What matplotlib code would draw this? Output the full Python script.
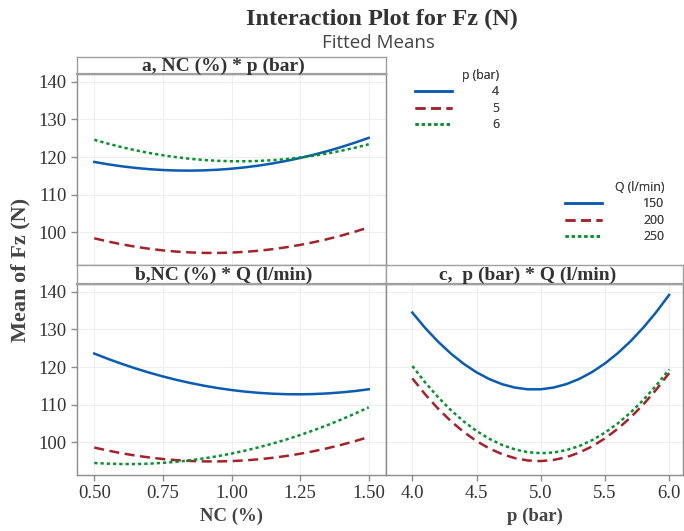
import matplotlib
matplotlib.use("Agg")
import matplotlib.pyplot as plt
from matplotlib.lines import Line2D

# --- dados (médias ajustadas) ---
NC = [0.50, 0.55, 0.60, 0.65, 0.70, 0.75, 0.80, 0.85, 0.90, 0.95, 1.00,
      1.05, 1.10, 1.15, 1.20, 1.25, 1.30, 1.35, 1.40, 1.45, 1.50]
P = [4.0, 4.1, 4.2, 4.3, 4.4, 4.5, 4.6, 4.7, 4.8, 4.9, 5.0,
     5.1, 5.2, 5.3, 5.4, 5.5, 5.6, 5.7, 5.8, 5.9, 6.0]

# a) NC * p
a_p4 = [118.71, 118.08, 117.55, 117.12, 116.79, 116.56, 116.43, 116.40, 116.47, 116.64, 116.91,
        117.28, 117.75, 118.32, 118.99, 119.76, 120.63, 121.60, 122.67, 123.84, 125.11]
a_p5 = [98.40, 97.55, 96.80, 96.16, 95.62, 95.19, 94.86, 94.64, 94.52, 94.51, 94.60,
        94.80, 95.10, 95.51, 96.02, 96.64, 97.36, 98.19, 99.12, 100.16, 101.30]
a_p6 = [124.60, 123.57, 122.64, 121.82, 121.10, 120.48, 119.96, 119.54, 119.22, 119.01, 118.90,
        118.89, 118.98, 119.18, 119.48, 119.88, 120.38, 120.98, 121.68, 122.49, 123.40]

# b) NC * Q
b_q150 = [123.60, 122.18, 120.87, 119.65, 118.53, 117.51, 116.59, 115.77, 115.05, 114.42, 113.90,
          113.47, 113.15, 112.92, 112.79, 112.76, 112.83, 113.00, 113.27, 113.63, 114.10]
b_q200 = [98.60, 97.79, 97.08, 96.47, 95.96, 95.55, 95.24, 95.03, 94.92, 94.91, 95.00,
          95.19, 95.48, 95.87, 96.36, 96.95, 97.64, 98.43, 99.32, 100.31, 101.40]
b_q250 = [94.50, 94.31, 94.22, 94.22, 94.32, 94.53, 94.82, 95.22, 95.72, 96.31, 97.00,
          97.79, 98.68, 99.66, 100.74, 101.93, 103.20, 104.58, 106.06, 107.63, 109.30]

# c) p * Q
c_q150 = [134.50, 130.41, 126.78, 123.60, 120.88, 118.61, 116.80, 115.44, 114.54, 114.09, 114.10,
          114.56, 115.48, 116.85, 118.68, 120.96, 123.70, 126.89, 130.54, 134.64, 139.20]
c_q200 = [117.00, 112.76, 108.97, 105.63, 102.75, 100.33, 98.35, 96.83, 95.77, 95.16, 95.00,
          95.30, 96.05, 97.25, 98.91, 101.03, 103.59, 106.61, 110.09, 114.02, 118.40]
c_q250 = [120.30, 115.93, 112.02, 108.56, 105.56, 103.01, 100.92, 99.28, 98.10, 97.37, 97.10,
          97.28, 97.92, 99.01, 100.56, 102.56, 105.02, 107.93, 111.30, 115.12, 119.40]

p_levels = ["4", "5", "6"]
q_levels = ["150", "200", "250"]
yticks = [100, 110, 120, 130, 140]
nc_ticks = [0.5, 0.75, 1.0, 1.25, 1.5]
p_ticks = [4.0, 4.5, 5.0, 5.5, 6.0]

CORES = ["#0B5BB0", "#A3232A", "#0A9030"]
ESTILOS = ["-", (0, (4.0, 2.2)), (0, (1.3, 1.2))]
LW = 1.8
SERIF = "Liberation Serif"
SANS = "Open Sans"
W, H = 684, 531
YLIM = (91.3, 142.1)


def caixa(l, t, r, b):
    return [l / W, 1 - b / H, (r - l) / W, (b - t) / H]


fig = plt.figure(figsize=(W / 100, H / 100), dpi=100)


def painel(box, x, series, xlim, xt, xfmt, ylab, xlab):
    ax = fig.add_axes(caixa(*box))
    for ys, c, ls in zip(series, CORES, ESTILOS):
        ax.plot(x, ys, color=c, ls=ls, lw=LW)
    ax.set_xlim(*xlim)
    ax.set_ylim(*YLIM)
    ax.set_xticks(xt)
    ax.set_yticks(yticks)
    ax.grid(color="#eeeeee", lw=0.8)
    ax.set_axisbelow(True)
    for s in ax.spines.values():
        s.set_color("#8c8c8c")
        s.set_linewidth(1.0)
    ax.tick_params(colors="#8c8c8c", length=4, width=1, labelcolor="#333333",
                   labelsize=13.5)
    for lbl in ax.get_xticklabels() + ax.get_yticklabels():
        lbl.set_family(SERIF)
    if xlab:
        ax.set_xticklabels([xfmt % v for v in xt])
        ax.set_xlabel(xlab, family=SERIF, fontsize=13.5, fontweight="bold",
                      color="#444444", labelpad=4)
    else:
        ax.tick_params(axis="x", bottom=False, labelbottom=False)
    if not ylab:
        ax.tick_params(axis="y", left=False, labelleft=False)
    return ax


def faixa(box, texto, desloc):
    ax = fig.add_axes(caixa(*box))
    ax.set_xticks([]); ax.set_yticks([])
    for s in ax.spines.values():
        s.set_color("#a0a0a0")
        s.set_linewidth(1.0)
    ax.spines["bottom"].set_linewidth(1.6)
    cx = 0.5 + desloc / (box[2] - box[0])
    ax.text(cx, 0.45, texto, ha="center", va="center", family=SERIF,
            fontsize=14, fontweight="bold", color="#333333", transform=ax.transAxes)


painel((77, 74, 386, 265), NC, [a_p4, a_p5, a_p6], (0.437, 1.563), nc_ticks, "%.2f",
       True, None)
painel((77, 284, 386, 475), NC, [b_q150, b_q200, b_q250], (0.437, 1.563), nc_ticks, "%.2f",
       True, "NC (%)")
painel((386, 284, 683, 475), P, [c_q150, c_q200, c_q250], (3.795, 6.108), p_ticks, "%.1f",
       False, "p (bar)")

faixa((77, 57, 386, 74), "a, NC (%) * p (bar)", -8)
faixa((77, 265, 386, 284), "b,NC (%) * Q (l/min)", -8)
faixa((386, 265, 683, 284), "c,  p (bar) * Q (l/min)", -7)


def legenda(titulo, niveis, ancora, pad):
    hs = [Line2D([], [], color=c, ls=ls, lw=LW) for c, ls in zip(CORES, ESTILOS)]
    lg = fig.legend(hs, niveis, title=titulo, loc="upper left",
                    bbox_to_anchor=(ancora[0] / W, 1 - ancora[1] / H),
                    frameon=False, handlelength=3.0, handletextpad=pad,
                    labelspacing=0.28, borderpad=0, borderaxespad=0,
                    alignment="right", prop={"family": SANS, "size": 8.8})
    lg.get_title().set_family(SANS)
    lg.get_title().set_fontsize(8.8)
    lg.get_title().set_color("#444444")
    for t in lg.get_texts():
        t.set_color("#444444")
    fig.add_artist(lg)


legenda("p (bar)", p_levels, (415, 69), 3.3)
legenda("Q (l/min)", q_levels, (565, 181), 3.4)

fig.text(382 / W, 1 - 19 / H, "Interaction Plot for Fz (N)", ha="center",
         va="center", family=SERIF, fontsize=17.5, fontweight="bold", color="#333333")
fig.text(378 / W, 1 - 43 / H, "Fitted Means", ha="center", va="center",
         family=SANS, fontsize=13.5, color="#444444")
fig.text(20 / W, 1 - 270 / H, "Mean of Fz (N)", ha="center", va="center",
         rotation=90, family=SERIF, fontsize=16, fontweight="bold", color="#444444")

fig.savefig("out.png", dpi=100)
